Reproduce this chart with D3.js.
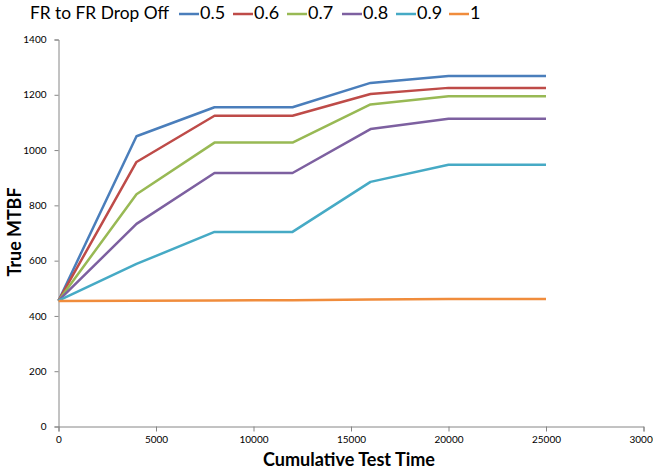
<!DOCTYPE html>
<html>
<head>
<meta charset="utf-8">
<script src="https://cdn.jsdelivr.net/npm/d3@7/dist/d3.min.js"></script>
<style>
  html, body { margin: 0; padding: 0; background: #fff; }
  svg { display: block; font-family: Lato, "Open Sans", "Liberation Sans", sans-serif; }
</style>
</head>
<body>
<svg id="chart" width="653" height="471"></svg>
<script>
// Cumulative test time (x) and true MTBF for each FR-to-FR drop-off ratio
const testTime = [0, 4000, 8000, 12000, 16000, 20000, 25000];
const dropOff = ["0.5", "0.6", "0.7", "0.8", "0.9", "1"];
const mtbf05 = [455, 1050, 1155, 1155, 1243, 1268, 1268];
const mtbf06 = [455, 957, 1124, 1124, 1203, 1225, 1225];
const mtbf07 = [455, 840, 1027, 1027, 1165, 1195, 1195];
const mtbf08 = [455, 733, 917, 917, 1076, 1113, 1113];
const mtbf09 = [455, 588, 704, 704, 885, 947, 947];
const mtbf10 = [454, 455, 456, 457, 459, 461, 461];
const seriesValues = [mtbf05, mtbf06, mtbf07, mtbf08, mtbf09, mtbf10];
const colors = ["#4a7ebb", "#be4b48", "#98b954", "#7d60a0", "#46aac5", "#f08c3c"];
const xTicks = [0, 5000, 10000, 15000, 20000, 25000, 30000];
const yTicks = [0, 200, 400, 600, 800, 1000, 1200, 1400];

const svg = d3.select("#chart");
const x = d3.scaleLinear().domain([0, 30000]).range([58.5, 643.5]);
const y = d3.scaleLinear().domain([0, 1400]).range([426.5, 39.5]);
const axisColor = "#868686";

// Axes
const gx = svg.append("g").attr("transform", `translate(0,${y(0)})`)
  .call(d3.axisBottom(x).tickValues(xTicks).tickSizeOuter(0).tickSize(5).tickPadding(4).tickFormat(d3.format("d")));
const gy = svg.append("g").attr("transform", `translate(${x(0)},0)`)
  .call(d3.axisLeft(y).tickValues(yTicks).tickSizeOuter(0).tickSize(4).tickPadding(8).tickFormat(d3.format("d")));
[gx, gy].forEach(g => {
  g.select(".domain").attr("stroke", axisColor).attr("stroke-width", 1);
  g.selectAll(".tick line").attr("stroke", axisColor);
  g.selectAll(".tick text").attr("fill", "#000").style("font-size", "10px")
    .style("font-family", "Lato, 'Open Sans', sans-serif");
});

// Series lines
const line = d3.line().x((d, i) => x(testTime[i])).y(d => y(d));
seriesValues.forEach((vals, k) => {
  svg.append("path").datum(vals)
    .attr("d", line)
    .attr("fill", "none")
    .attr("stroke", colors[k])
    .attr("stroke-width", 2.5)
    .attr("stroke-linejoin", "round");
});

// Axis titles
svg.append("text").attr("x", 349).attr("y", 466).attr("text-anchor", "middle")
  .attr("textLength", 172).attr("lengthAdjust", "spacingAndGlyphs")
  .style("font-size", "18px").style("font-weight", "bold").text("Cumulative Test Time");
svg.append("text").attr("transform", "translate(21,232) rotate(-90)").attr("text-anchor", "middle")
  .attr("textLength", 89).attr("lengthAdjust", "spacingAndGlyphs")
  .style("font-size", "19px").style("font-weight", "bold").text("True MTBF");

// Legend
svg.append("text").attr("x", 30).attr("y", 19)
  .attr("textLength", 139).attr("lengthAdjust", "spacingAndGlyphs")
  .style("font-size", "18px").text("FR to FR Drop Off");
const legendX = [179, 233, 287, 342, 396, 449];
dropOff.forEach((label, k) => {
  svg.append("line").attr("x1", legendX[k]).attr("x2", legendX[k] + 20)
    .attr("y1", 14).attr("y2", 14).attr("stroke", colors[k]).attr("stroke-width", 2.5);
  svg.append("text").attr("x", legendX[k] + 21).attr("y", 19)
    .style("font-size", "18px").text(label);
});
</script>
</body>
</html>
